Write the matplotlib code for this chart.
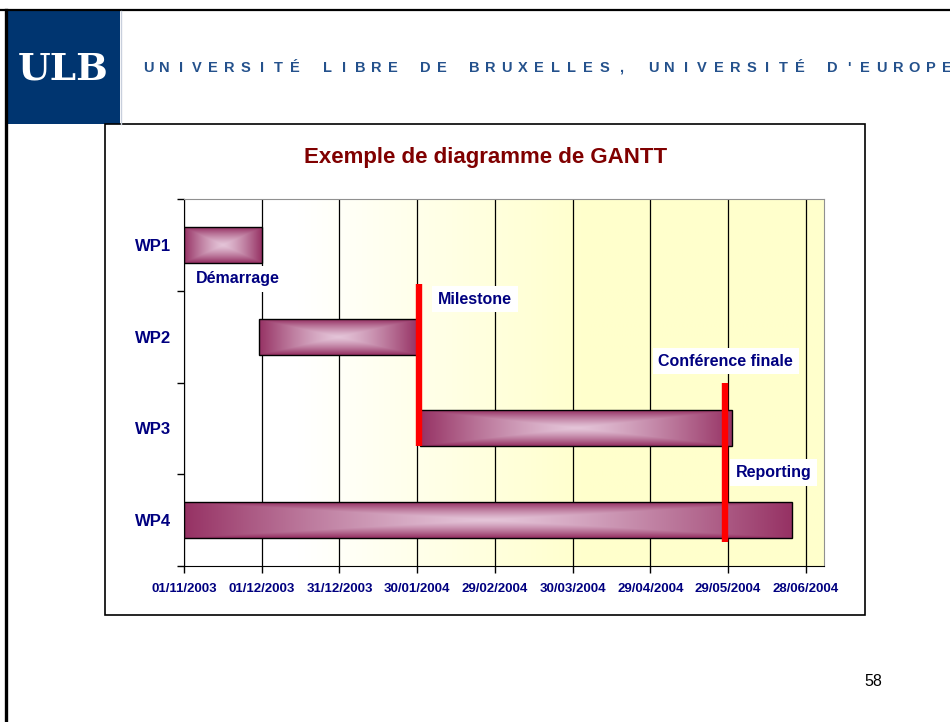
import numpy as np
import matplotlib
matplotlib.use('Agg')
import matplotlib.pyplot as plt
from matplotlib.patches import Rectangle

#=======================================================================
# Data
#=======================================================================
# Work packages, start and length in days after 01/11/2003.
tasks = ['WP1', 'WP2', 'WP3', 'WP4']
start_day = [0, 29, 91, 0]
duration = [30, 61, 120.5, 234.5]

# Date axis.
tick_days = [0, 30, 60, 90, 120, 150, 180, 210, 240]
tick_labels = ['01/11/2003', '01/12/2003', '31/12/2003', '30/01/2004',
               '29/02/2004', '30/03/2004', '29/04/2004', '29/05/2004',
               '28/06/2004']

# Milestone markers (day, and the category span they cover).
mark_day = [90.7, 208.7]
mark_from = [0.43, 1.50]
mark_to = [2.19, 3.24]

# Notes written on the chart.
note_text = ['Démarrage', 'Milestone', 'Conférence finale', 'Reporting']
note_day = [20.8, 112.3, 209.0, 227.5]
note_row = [0.37, 0.59, 1.27, 2.48]

title = 'Exemple de diagramme de GANTT'
header = "UNIVERSITÉ LIBRE DE BRUXELLES, UNIVERSITÉ D'EUROPE"
page_number = '58'

#=======================================================================
# Page layout
#=======================================================================
navy = '#000080'
plt.rcParams['font.family'] = ['Liberation Sans', 'DejaVu Sans']

fig = plt.figure(figsize=(9.5, 7.22), dpi=100)
fig.patch.set_facecolor('white')

# Whole-page axes in pixel units for the slide decoration.
bg = fig.add_axes([0, 0, 1, 1], zorder=0)
bg.set_xlim(0, 950)
bg.set_ylim(722, 0)
bg.axis('off')

bg.plot([0, 950], [10, 10], color='black', lw=1.6)
bg.plot([6, 6], [10, 722], color='black', lw=2.4)
bg.add_patch(Rectangle((7, 11), 113, 113, facecolor='#003570', edgecolor='none'))
bg.plot([121, 121], [11, 124], color='#c8cfdc', lw=1)
bg.text(63, 69, 'ULB', color='white', fontsize=27, fontweight='bold',
        family='DejaVu Serif', ha='center', va='center')
for i, ch in enumerate(header):
    bg.text(148 + 16.3 * i, 68, ch, color='#24518c', fontsize=10.5,
            fontweight='bold', ha='center', va='center')

# Chart frame.
bg.add_patch(Rectangle((105, 124), 760, 491, facecolor='white',
                       edgecolor='black', lw=1.2))
bg.text(486, 157, title, color='#800000', fontsize=16, fontweight='bold',
        ha='center', va='center')
bg.text(873, 682, page_number, color='black', fontsize=11.5,
        ha='center', va='center')

#=======================================================================
# Gantt chart
#=======================================================================
ax = fig.add_axes([184 / 950, 1 - 566 / 722, 640 / 950, 367 / 722], zorder=1)
xmax = 247
ax.set_xlim(0, xmax)
ax.set_ylim(3.5, -0.5)

# Plot area background: white fading into pale yellow.
xs = np.linspace(0, 1, 400)
fade = np.clip((xs - 0.18) / 0.45, 0, 1)
grad = np.ones((2, xs.size, 3))
grad[:, :, 2] = 1 - 0.2 * fade
ax.imshow(grad, extent=(0, xmax, 3.5, -0.5), aspect='auto', zorder=0)

# Vertical grid lines.
ax.set_axisbelow(True)
ax.set_xticks(tick_days)
ax.set_xticklabels(tick_labels)
ax.grid(axis='x', color='black', lw=0.9)

# Bars: outline from barh, shaded fill drawn inside each one.
y = np.arange(len(tasks))
bars = ax.barh(y, duration, left=start_day, height=0.39, color='none',
               edgecolor='black', linewidth=1, zorder=3)
dark = np.array([150, 50, 100]) / 255
light = np.array([228, 196, 216]) / 255
for bar in bars:
    x0, y0 = bar.get_x(), bar.get_y()
    w, h = bar.get_width(), bar.get_height()
    u = np.abs(np.linspace(-1, 1, 300))
    v = np.abs(np.linspace(-1, 1, 40))
    t = np.maximum(u[None, :], v[:, None]) ** 1.3
    img = light + (dark - light) * t[:, :, None]
    ax.imshow(img, extent=(x0, x0 + w, y0 + h, y0), aspect='auto', zorder=2)

# Milestones.
ax.vlines(mark_day, mark_from, mark_to, color='red', lw=4.6, zorder=4)
for txt, d, r in zip(note_text, note_day, note_row):
    ax.text(d, r, txt, color=navy, fontsize=11.5, fontweight='bold',
            ha='center', va='center', zorder=5,
            bbox=dict(facecolor='white', edgecolor='none', pad=4))

# Axes styling.
ax.set_yticks(y)
ax.set_yticklabels(tasks)
ax.set_yticks(np.arange(-0.5, 4.0, 1.0), minor=True)
ax.tick_params(axis='y', which='major', length=0, pad=9, labelsize=12)
ax.tick_params(axis='y', which='minor', length=5, width=1, direction='out')
ax.tick_params(axis='x', length=5, width=1, direction='out', pad=7,
               labelsize=9.5)
for lab in ax.get_xticklabels() + ax.get_yticklabels():
    lab.set_color(navy)
    lab.set_fontweight('bold')
for side in ['top', 'right']:
    ax.spines[side].set_color('#909090')
for side in ['left', 'bottom']:
    ax.spines[side].set_color('black')

fig.savefig('out.png', dpi=100, facecolor='white')
